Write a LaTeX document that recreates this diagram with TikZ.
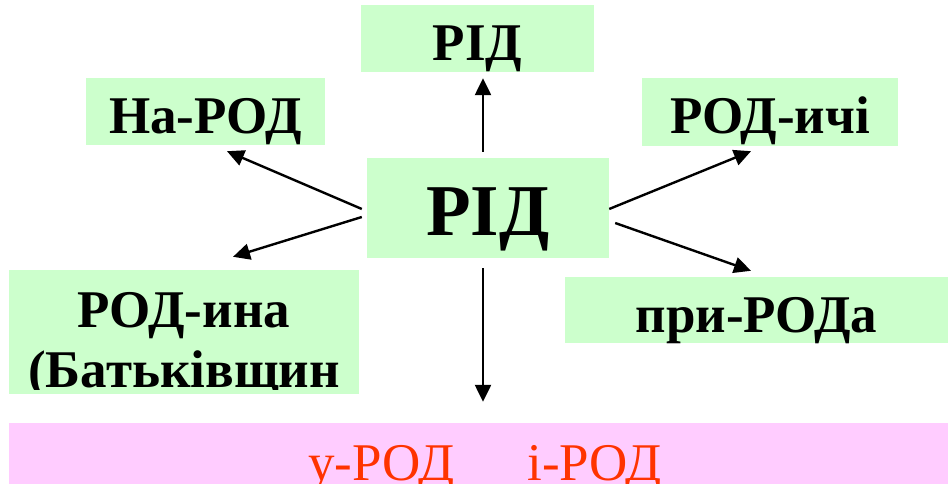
\documentclass[tikz,border=0pt]{standalone}
\usepackage{fontspec}
\setmainfont{Liberation Serif}
\usetikzlibrary{arrows.meta}
\definecolor{boxgreen}{HTML}{CCFFCC}
\definecolor{boxpink}{HTML}{FFCCFF}
\definecolor{txtred}{HTML}{FF3300}
\begin{document}
\begin{tikzpicture}[x=1pt,y=-1pt,
  gbox/.style={fill=boxgreen, inner sep=0pt, font=\fontsize{53}{60}\selectfont\bfseries, text depth=0pt},
  lbl/.style={inner sep=0pt, anchor=base, font=\fontsize{53}{60}\selectfont\bfseries},
  conn/.style={line width=2.4pt, -{Triangle[length=17pt,width=16pt]}}]
\useasboundingbox (0,0) rectangle (950,484);
% boxes
\node[gbox, minimum width=233pt, minimum height=67pt, text height=45pt] (top) at (477.5,38.5) {РІД};
\node[gbox, minimum width=239pt, minimum height=67pt, text height=43pt] (na) at (205.5,111.5) {На-РОД};
\node[gbox, minimum width=242pt, minimum height=100pt, text height=54pt, font=\fontsize{73}{80}\selectfont\bfseries] (c) at (488,208) {РІД};
\node[gbox, minimum width=256pt, minimum height=68pt, text height=42pt] (ichi) at (770,112) {РОД-ичі};
\node[gbox, minimum width=383pt, minimum height=66pt, text height=44pt] (pry) at (756.5,310) {при-РОДа};
\node[fill=boxgreen, inner sep=0pt, minimum width=350pt, minimum height=124pt] (rod) at (184,332) {};
\node[lbl] (rodl1) at (184,327) {РОД-ина};
\begin{scope}
  \clip (0,270) rectangle (950,389);
  \node[lbl] (rodl2) at (184,387) {(Батьківщин};
\end{scope}
\node[fill=boxpink, inner sep=0pt, minimum width=939pt, minimum height=67pt] (pink) at (478.5,456.5) {};
\node[inner sep=0pt, anchor=base, text=txtred, font=\fontsize{53}{60}\selectfont] (pinkt) at (485,480) {у-РОД\hspace{73pt}і-РОД};
% connectors
\draw[conn] ([shift={(-5,-6)}]c.north) -- ([shift={(5.5,6)}]top.south);
\draw[conn] ([shift={(-5,1)}]c.west) -- ([shift={(21.5,6)}]na.south);
\draw[conn] ([shift={(-5,9)}]c.west) -- ([shift={(49,-13)}]rod.north);
\draw[conn] ([shift={(0,1)}]c.east) -- ([shift={(-19,5)}]ichi.south);
\draw[conn] ([shift={(6,15)}]c.east) -- ([shift={(-5.5,-6)}]pry.north);
\draw[conn] ([shift={(-5,10)}]c.south) -- ([shift={(4.5,-21)}]pink.north);
\end{tikzpicture}
\end{document}
